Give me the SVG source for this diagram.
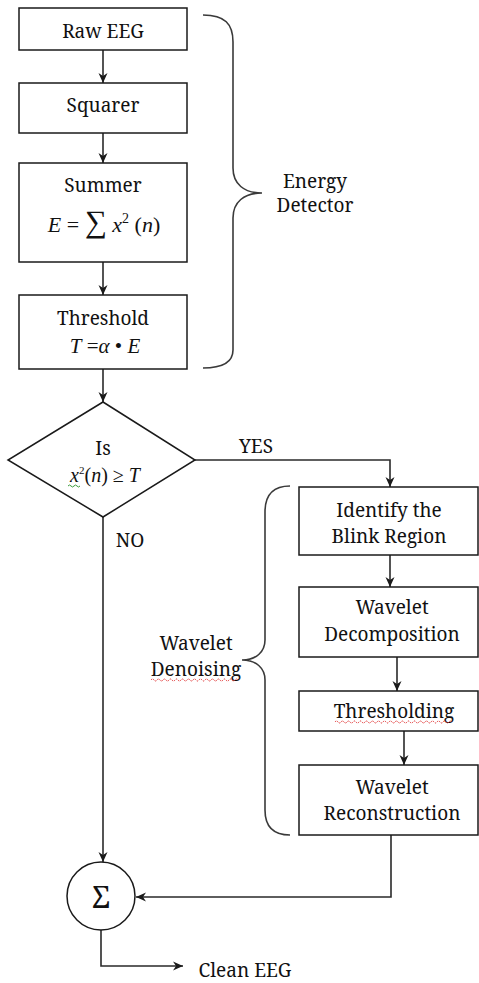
<svg xmlns="http://www.w3.org/2000/svg" width="479" height="983" viewBox="0 0 479 983" font-family="Noto Serif, Liberation Serif, serif" font-size="19">
<defs>
<style>
.box{fill:#fff;stroke:#1a1a1a;stroke-width:1.5}
.ln{fill:none;stroke:#2a2a2a;stroke-width:1.6}
.br{fill:none;stroke:#3a3a3a;stroke-width:1.6}
text{fill:#111;text-anchor:middle}
.it{font-style:italic}
.sq{fill:none;stroke:#e03030;stroke-width:1;stroke-dasharray:1.5 1}
</style>
<marker id="ah" viewBox="0 0 10 10" refX="10" refY="5" markerWidth="10" markerHeight="10" markerUnits="userSpaceOnUse" orient="auto">
<path d="M0,0.5 L10,5 L0,9.5 L3,5 Z" fill="#1a1a1a"/>
</marker>
</defs>

<g id="connectors">
<path class="ln" d="M103,50 V83" marker-end="url(#ah)"/>
<path class="ln" d="M103,133 V163" marker-end="url(#ah)"/>
<path class="ln" d="M103,262 V295" marker-end="url(#ah)"/>
<path class="ln" d="M103,369 V402" marker-end="url(#ah)"/>
<path class="ln" d="M195,460 H390 V487" marker-end="url(#ah)"/>
<path class="ln" d="M103,517 V862" marker-end="url(#ah)"/>
<path class="ln" d="M390,555 V587" marker-end="url(#ah)"/>
<path class="ln" d="M397,657 V691" marker-end="url(#ah)"/>
<path class="ln" d="M404,731 V765" marker-end="url(#ah)"/>
<path class="ln" d="M391,835 V897 H136" marker-end="url(#ah)"/>
<path class="ln" d="M101,930 V966 H183" marker-end="url(#ah)"/>
</g>

<g id="raw-eeg">
<rect class="box" x="19" y="8" width="168" height="42"/>
<text x="103" y="38">Raw EEG</text>
</g>
<g id="squarer">
<rect class="box" x="19" y="83" width="168" height="50"/>
<text x="103" y="112">Squarer</text>
</g>
<g id="summer">
<rect class="box" x="19" y="163" width="168" height="99"/>
<text x="103" y="192">Summer</text>
<text x="104" y="232" font-family="Liberation Serif, serif" font-size="22"><tspan class="it">E</tspan> = <tspan font-size="31">∑</tspan><tspan class="it"> x</tspan><tspan dy="-9" font-size="14">2</tspan><tspan dy="9">  (</tspan><tspan class="it">n</tspan>)</text>
</g>
<g id="threshold">
<rect class="box" x="19" y="295" width="168" height="74"/>
<text x="103" y="325">Threshold</text>
<text x="105" y="353" font-family="Liberation Serif, serif" font-size="21"><tspan class="it">T</tspan> =<tspan class="it">α</tspan> • <tspan class="it">E</tspan></text>
</g>

<g id="energy-detector">
<path class="br" d="M203,15 C225,15 233,24 233,42 V168 C233,184 244,193 262,193 C244,193 233,202 233,218 V350 C233,362 224,368 203,368"/>
<text x="315" y="188">Energy</text>
<text x="315" y="212">Detector</text>
</g>

<g id="decision">
<polygon class="box" points="103,402 195,460 103,517 8,460"/>
<text x="103" y="455">Is</text>
<text x="105" y="482" font-family="Liberation Serif, serif" font-size="20"><tspan class="it">x</tspan><tspan dy="-8" font-size="11">2</tspan><tspan dy="8">(</tspan><tspan class="it">n</tspan>) ≥ <tspan class="it">T</tspan></text>
<path d="M68,486 q1.5,-2 3,0 t3,0 t3,0 t3,0" fill="none" stroke="#3a9a3a" stroke-width="1"/>
</g>

<text id="yes-label" x="256" y="453">YES</text>
<text id="no-label" x="130" y="547">NO</text>

<g id="identify">
<rect class="box" x="299" y="487" width="179" height="68"/>
<text x="389" y="517">Identify the</text>
<text x="389" y="543">Blink Region</text>
</g>
<g id="decomposition">
<rect class="box" x="299" y="587" width="179" height="70"/>
<text x="392" y="614">Wavelet</text>
<text x="392" y="641">Decomposition</text>
</g>
<g id="thresholding">
<rect class="box" x="299" y="691" width="179" height="40"/>
<text x="394" y="718">Thresholding</text>
<path class="sq" d="M335,722 q1.5,-2 3,0 t3,0 t3,0 t3,0 t3,0 t3,0 t3,0 t3,0 t3,0 t3,0 t3,0 t3,0 t3,0 t3,0 t3,0 t3,0 t3,0 t3,0 t3,0 t3,0 t3,0 t3,0 t3,0 t3,0 t3,0 t3,0 t3,0 t3,0 t3,0 t3,0 t3,0 t3,0 t3,0 t3,0 t3,0 t3,0 t3,0 t3,0 t3,0"/>
</g>
<g id="reconstruction">
<rect class="box" x="299" y="765" width="179" height="70"/>
<text x="392" y="794">Wavelet</text>
<text x="392" y="820">Reconstruction</text>
</g>

<g id="wavelet-denoising">
<path class="br" d="M290,486 C272,486 265,496 265,512 V640 C265,652 256,660 242,660 C256,660 265,668 265,680 V810 C265,826 272,835 290,835"/>
<text x="196" y="650">Wavelet</text>
<text x="196" y="676">Denoising</text>
<path class="sq" d="M151,680 q1.5,-2 3,0 t3,0 t3,0 t3,0 t3,0 t3,0 t3,0 t3,0 t3,0 t3,0 t3,0 t3,0 t3,0 t3,0 t3,0 t3,0 t3,0 t3,0 t3,0 t3,0 t3,0 t3,0 t3,0 t3,0 t3,0 t3,0 t3,0 t3,0 t3,0"/>
</g>

<g id="sum">
<circle class="box" cx="101" cy="896" r="34"/>
<text x="101" y="908" font-size="30">Σ</text>
</g>

<text id="clean-eeg" x="245" y="977">Clean EEG</text>
</svg>
